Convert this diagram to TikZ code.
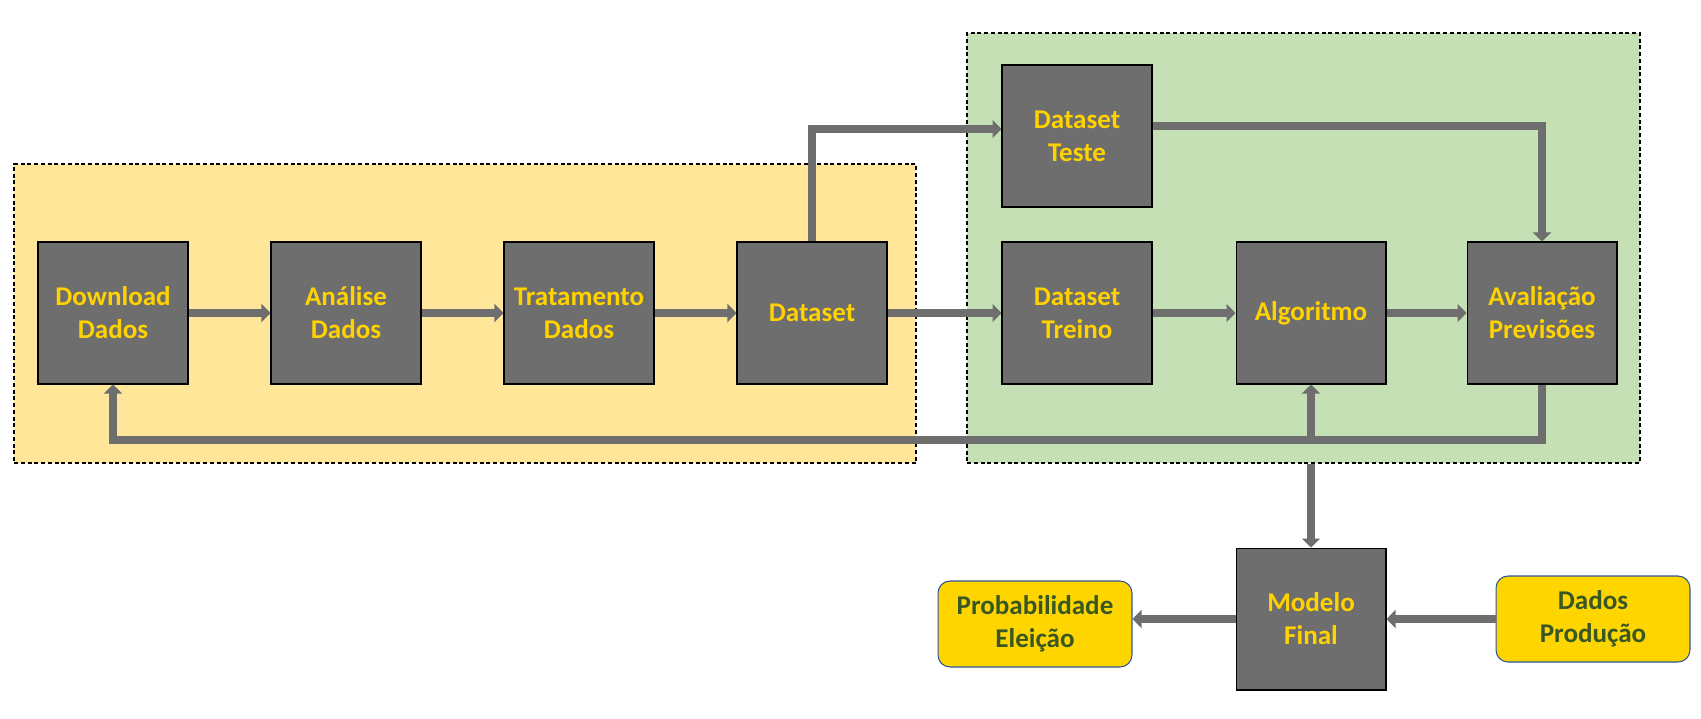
\documentclass[tikz,border=0pt]{standalone}
\usepackage{fontspec}
\setmainfont{Carlito}
\usetikzlibrary{arrows.meta}
\definecolor{boxgray}{HTML}{6E6E6E}
\definecolor{txtgold}{HTML}{FFD200}
\definecolor{prepyellow}{HTML}{FFE699}
\definecolor{modelgreen}{HTML}{C5E0B4}
\definecolor{outgold}{HTML}{FFD500}
\definecolor{outgreen}{HTML}{385723}
\definecolor{outblue}{HTML}{2F5597}
\begin{document}
\begin{tikzpicture}[x=0.02cm,y=-0.02cm,
  stepbox/.style={draw=black,line width=0.6pt,fill=boxgray,text=txtgold,
    minimum width=3cm,minimum height=2.84cm,inner sep=0pt,align=center,
    font=\fontsize{15.4}{18.8}\selectfont\bfseries},
  outbox/.style={draw=outblue,line width=0.6pt,fill=outgold,text=outgreen,
    rounded corners=0.24cm,minimum width=3.88cm,minimum height=1.72cm,
    inner sep=0pt,align=center,font=\fontsize{15.4}{18.8}\selectfont\bfseries},
  region/.style={draw=black,line width=1pt,dash pattern=on 0.08cm off 0.055cm,
    inner sep=0pt},
  flow/.style={draw=boxgray,line width=0.16cm,
    -{Triangle[length=0.18cm,width=0.36cm]}}]
\useasboundingbox (0,0) rectangle (1701,718);

% regions
\node[region,fill=prepyellow,minimum width=18.04cm,minimum height=5.98cm] (prep) at (465,313.5) {};
\node[region,fill=modelgreen,minimum width=13.46cm,minimum height=8.6cm] (model) at (1303.5,248) {};

% boxes
\node[stepbox] (download) at (113,313) {Download\\Dados};
\node[stepbox] (analise) at (346,313) {Análise\\Dados};
\node[stepbox] (tratamento) at (579,313) {Tratamento\\Dados};
\node[stepbox] (dataset) at (812,313) {Dataset};
\node[stepbox] (teste) at (1077,136) {Dataset\\Teste};
\node[stepbox] (treino) at (1077,313) {Dataset\\Treino};
\node[stepbox] (algoritmo) at (1311,313) {Algoritmo};
\node[stepbox] (avaliacao) at (1542,313) {Avaliação\\Previsões};
\node[stepbox] (modelo) at (1311,619) {Modelo\\Final};
\node[outbox] (prob) at (1035,624) {Probabilidade\\Eleição};
\node[outbox] (producao) at (1593,619) {Dados\\Produção};
\coordinate (loop) at (0,440);

% arrows
\draw[flow] (download) -- (analise);
\draw[flow] (analise) -- (tratamento);
\draw[flow] (tratamento) -- (dataset);
\draw[flow] (dataset) -- (treino);
\draw[flow] (treino) -- (algoritmo);
\draw[flow] (algoritmo) -- (avaliacao);
\draw[flow] (dataset.north) |- ([yshift=0.14cm]teste.west);
\draw[flow] ([yshift=0.2cm]teste.east) -| (avaliacao.north);
\draw[flow] (avaliacao.south) -- (avaliacao.south |- loop) -| (download.south);
\draw[flow] (algoritmo.south |- loop) -- (algoritmo.south);
\draw[flow] (algoritmo.south |- model.south) -- (modelo.north);
\draw[flow] (modelo.west) -- (prob.east |- modelo.west);
\draw[flow] (producao.west) -- (modelo.east);
\end{tikzpicture}
\end{document}
